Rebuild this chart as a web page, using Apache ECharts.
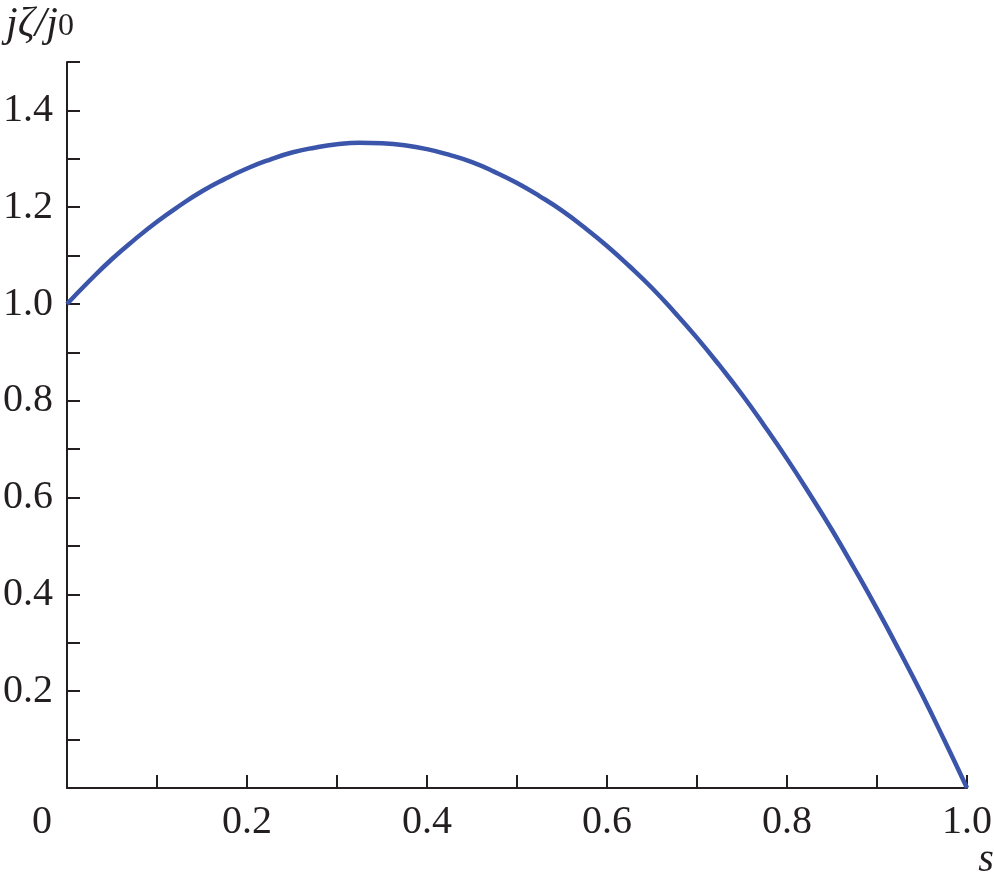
<!DOCTYPE html>
<html>
<head>
<meta charset="utf-8">
<script src="https://cdn.jsdelivr.net/npm/echarts@6/dist/echarts.min.js"></script>
<style>
  html, body { margin: 0; padding: 0; background: #fff; }
  #chart { width: 994px; height: 888px; }
</style>
</head>
<body>
<div id="chart"></div>
<script>
// s values along the x axis
const sValues = [0, 0.025, 0.05, 0.075, 0.1, 0.125, 0.15, 0.175, 0.2, 0.225,
  0.25, 0.275, 0.3, 0.325, 0.35, 0.375, 0.4, 0.425, 0.45, 0.475,
  0.5, 0.525, 0.55, 0.575, 0.6, 0.625, 0.65, 0.675, 0.7, 0.725,
  0.75, 0.775, 0.8, 0.825, 0.85, 0.875, 0.9, 0.925, 0.95, 0.975, 1.0]
// j_zeta / j_0
const jValues = [1.000, 1.048, 1.093, 1.133, 1.170, 1.203, 1.233, 1.258, 1.280, 1.298,
  1.313, 1.323, 1.330, 1.333, 1.332, 1.328, 1.320, 1.308, 1.293, 1.273,
  1.250, 1.223, 1.193, 1.158, 1.120, 1.078, 1.033, 0.983, 0.930, 0.873,
  0.813, 0.748, 0.680, 0.608, 0.533, 0.453, 0.370, 0.283, 0.193, 0.098, 0.0]
const xTickLabels = ['0.2', '0.4', '0.6', '0.8', '1.0']
const yTickLabels = ['0.2', '0.4', '0.6', '0.8', '1.0', '1.2', '1.4']

const font = '"Liberation Serif", "Times New Roman", serif'
const axisColor = '#231f20'

let myChart = echarts.init(document.getElementById('chart'))
myChart.setOption({
  animation: false,
  grid: {
    left: 67,
    right: 27,
    top: 62,
    bottom: 100,
    outerBoundsMode: 'none',
    containLabel: false
  },
  xAxis: {
    type: 'value',
    min: 0,
    max: 1,
    interval: 0.1,
    axisLine: { lineStyle: { color: axisColor, width: 2 } },
    axisTick: { inside: true, length: 13, lineStyle: { color: axisColor, width: 2 } },
    splitLine: { show: false },
    axisLabel: {
      margin: 14,
      fontFamily: font,
      fontSize: 40,
      color: axisColor,
      formatter: v => {
        let s = v.toFixed(1)
        return xTickLabels.indexOf(s) >= 0 ? s : ''
      }
    }
  },
  yAxis: {
    type: 'value',
    min: 0,
    max: 1.5,
    interval: 0.1,
    axisLine: { lineStyle: { color: axisColor, width: 2 } },
    axisTick: { inside: true, length: 13, lineStyle: { color: axisColor, width: 2 } },
    splitLine: { show: false },
    axisLabel: {
      margin: 14,
      fontFamily: font,
      fontSize: 40,
      color: axisColor,
      formatter: v => {
        let s = v.toFixed(1)
        return yTickLabels.indexOf(s) >= 0 ? s : ''
      }
    }
  },
  graphic: [
    {
      type: 'text',
      left: 6,
      top: 4,
      style: {
        text: '{i|jζ/j}{s|0}',
        rich: {
          i: { fontFamily: font, fontStyle: 'italic', fontSize: 42, fill: axisColor, verticalAlign: 'bottom', height: 44 },
          s: { fontFamily: font, fontSize: 32, fill: axisColor, verticalAlign: 'bottom', height: 40 }
        }
      }
    },
    {
      type: 'text',
      x: 42,
      y: 822,
      style: {
        text: '0',
        fontFamily: font,
        fontSize: 40,
        fill: axisColor,
        align: 'center',
        verticalAlign: 'middle'
      }
    },
    {
      type: 'text',
      x: 986,
      y: 860,
      style: {
        text: 's',
        fontFamily: font,
        fontStyle: 'italic',
        fontSize: 40,
        fill: axisColor,
        align: 'center',
        verticalAlign: 'middle'
      }
    }
  ],
  series: [
    {
      type: 'line',
      data: sValues.map((s, i) => [s, jValues[i]]),
      smooth: true,
      showSymbol: false,
      lineStyle: { color: '#3a55a9', width: 4.5 },
      z: 5
    }
  ]
})
</script>
</body>
</html>
